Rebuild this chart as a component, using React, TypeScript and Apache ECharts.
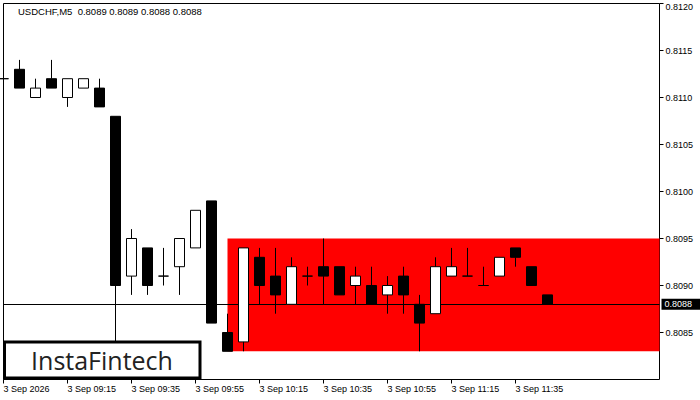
import React, { useEffect, useRef } from "react";
import * as echarts from "echarts";

const FONT = "'Liberation Sans', Arial, sans-serif";

const symbol = "USDCHF";
const timeframe = "M5";

// 5-minute slots on the category axis (35 candles + empty space to the right)
const categories = [
  "08:55", "09:00", "09:05", "09:10", "09:15", "09:20", "09:25", "09:30",
  "09:35", "09:40", "09:45", "09:50", "09:55", "10:00", "10:05", "10:10",
  "10:15", "10:20", "10:25", "10:30", "10:35", "10:40", "10:45", "10:50",
  "10:55", "11:00", "11:05", "11:10", "11:15", "11:20", "11:25", "11:30",
  "11:35", "11:40", "11:45", "11:50", "11:55", "12:00", "12:05", "12:10",
  "12:15", "12:20",
];

const tickIndices = [0, 4, 8, 12, 16, 20, 24, 28, 32];
const tickLabels = [
  "3 Sep 2026", "3 Sep 09:15", "3 Sep 09:35", "3 Sep 09:55", "3 Sep 10:15",
  "3 Sep 10:35", "3 Sep 10:55", "3 Sep 11:15", "3 Sep 11:35",
];

const opens = [
  0.8112, 0.8113, 0.8110, 0.8112, 0.8110, 0.8111, 0.8111, 0.8108, 0.8091, 0.8094,
  0.8091, 0.8092, 0.8094, 0.8099, 0.8085, 0.8084, 0.8093, 0.8091, 0.8088, 0.8091,
  0.8092, 0.8092, 0.8090, 0.8090, 0.8089, 0.8091, 0.8088, 0.8087, 0.8091, 0.8091,
  0.8090, 0.8091, 0.8094, 0.8092, 0.8089,
];
const closes = [
  0.8112, 0.8111, 0.8111, 0.8111, 0.8112, 0.8112, 0.8109, 0.8090, 0.8095, 0.8090,
  0.8091, 0.8095, 0.8098, 0.8086, 0.8083, 0.8094, 0.8090, 0.8089, 0.8092, 0.8091,
  0.8091, 0.8089, 0.8091, 0.8088, 0.8090, 0.8089, 0.8086, 0.8092, 0.8092, 0.8091,
  0.8090, 0.8093, 0.8093, 0.8090, 0.8088,
];
const lows = [
  0.8112, 0.8111, 0.8110, 0.8111, 0.8109, 0.8111, 0.8109, 0.8080, 0.8089, 0.8089,
  0.8090, 0.8089, 0.8094, 0.8086, 0.8083, 0.8083, 0.8088, 0.8087, 0.8088, 0.8090,
  0.8088, 0.8089, 0.8088, 0.8088, 0.8087, 0.8087, 0.8083, 0.8087, 0.8091, 0.8091,
  0.8090, 0.8091, 0.8092, 0.8090, 0.8088,
];
const highs = [
  0.8114, 0.8114, 0.8112, 0.8114, 0.8112, 0.8112, 0.8112, 0.8108, 0.8096, 0.8094,
  0.8094, 0.8095, 0.8098, 0.8099, 0.8087, 0.8094, 0.8094, 0.8094, 0.8093, 0.8092,
  0.8095, 0.8092, 0.8092, 0.8092, 0.8091, 0.8092, 0.8089, 0.8093, 0.8094, 0.8094,
  0.8092, 0.8093, 0.8094, 0.8092, 0.8089,
];

const patternStartIndex = 14;
const patternEndIndex = 41;
const patternTop = 0.8095;
const patternBottom = 0.8083;
const bidPrice = 0.8088;

const yMin = 0.808;
const yMax = 0.812;
const yInterval = 0.0005;

export default function App() {
  const ref = useRef<HTMLDivElement>(null);

  useEffect(() => {
    if (!ref.current) return;
    const chart = echarts.init(ref.current, null, { renderer: "svg" });
    const candleData = opens.map((o, i) => [o, closes[i], lows[i], highs[i]]);
    const last = opens.length - 1;
    const header = `${symbol},${timeframe}  ${opens[last].toFixed(4)} ${highs[last].toFixed(4)} ${lows[last].toFixed(4)} ${closes[last].toFixed(4)}`;
    const tickSet = new Set(tickIndices);

    chart.setOption({
      animation: false,
      backgroundColor: "#fff",
      title: {
        text: header,
        left: 18,
        top: 6,
        padding: 0,
        textStyle: { fontFamily: FONT, fontSize: 9.5, fontWeight: "normal", color: "#000" },
      },
      grid: {
        left: 3.5,
        right: 40.5,
        top: 3.5,
        bottom: 20.5,
        show: true,
        borderColor: "#000",
        borderWidth: 1,
        backgroundColor: "#fff",
      },
      xAxis: {
        type: "category",
        data: categories,
        boundaryGap: false,
        axisLine: { show: false },
        axisTick: {
          show: true,
          length: 4,
          interval: (i: number) => tickSet.has(i),
          lineStyle: { color: "#000", width: 1 },
        },
        axisLabel: {
          interval: (i: number) => tickSet.has(i),
          formatter: (_v: string, i: number) => tickLabels[tickIndices.indexOf(i)] ?? "",
          align: "left",
          margin: 5,
          fontFamily: FONT,
          fontSize: 9,
          color: "#000",
        },
        splitLine: { show: false },
      },
      yAxis: {
        type: "value",
        position: "right",
        min: yMin,
        max: yMax,
        interval: yInterval,
        axisLine: { show: false },
        axisTick: { show: true, length: 4, lineStyle: { color: "#000", width: 1 } },
        axisLabel: {
          showMinLabel: false,
          margin: 6,
          fontFamily: FONT,
          fontSize: 9,
          color: "#000",
          formatter: (v: number) => {
            const s = v.toFixed(4);
            return Math.abs(v - yMax) < 1e-9 ? `{top|${s}}` : s;
          },
          rich: {
            top: { padding: [6, 0, 0, 0], fontFamily: FONT, fontSize: 9, color: "#000" },
          },
        },
        splitLine: { show: false },
      },
      series: [
        {
          type: "candlestick",
          data: candleData,
          barWidth: 10,
          z: 3,
          silent: true,
          itemStyle: {
            color: "#ffffff",
            color0: "#000000",
            borderColor: "#000000",
            borderColor0: "#000000",
            borderColorDoji: "#000000",
            borderWidth: 1,
          },
          markArea: {
            silent: true,
            z: 1,
            itemStyle: { color: "#FF0000", opacity: 1, borderWidth: 0 },
            label: { show: false },
            data: [
              [
                { xAxis: categories[patternStartIndex], yAxis: patternTop },
                { xAxis: categories[patternEndIndex], yAxis: patternBottom },
              ],
            ],
          },
          markLine: {
            silent: true,
            z: 2,
            precision: 4,
            symbol: ["none", "none"],
            lineStyle: { color: "#000", width: 1, type: "solid" },
            label: {
              show: true,
              position: "end",
              distance: 2,
              formatter: (p: any) => Number(p.value).toFixed(4),
              color: "#fff",
              backgroundColor: "#000",
              padding: [1, 8, 1, 3],
              fontFamily: FONT,
              fontSize: 9,
            },
            data: [{ yAxis: bidPrice }],
          },
        },
      ],
      graphic: [
        {
          type: "rect",
          z: 100,
          shape: { x: 4.5, y: 342, width: 195.5, height: 36 },
          style: { fill: "#fff", stroke: "#000", lineWidth: 3 },
        },
        {
          type: "text",
          z: 101,
          x: 102,
          y: 360,
          style: {
            text: "InstaFintech",
            fontFamily: "'Open Sans', Lato, sans-serif",
            fontSize: 25,
            fill: "#222",
            align: "center",
            verticalAlign: "middle",
          },
        },
      ],
    });

    return () => chart.dispose();
  }, []);

  return (
    <div
      ref={ref}
      style={{ position: "fixed", left: 0, top: 0, width: 700, height: 400 }}
    />
  );
}
